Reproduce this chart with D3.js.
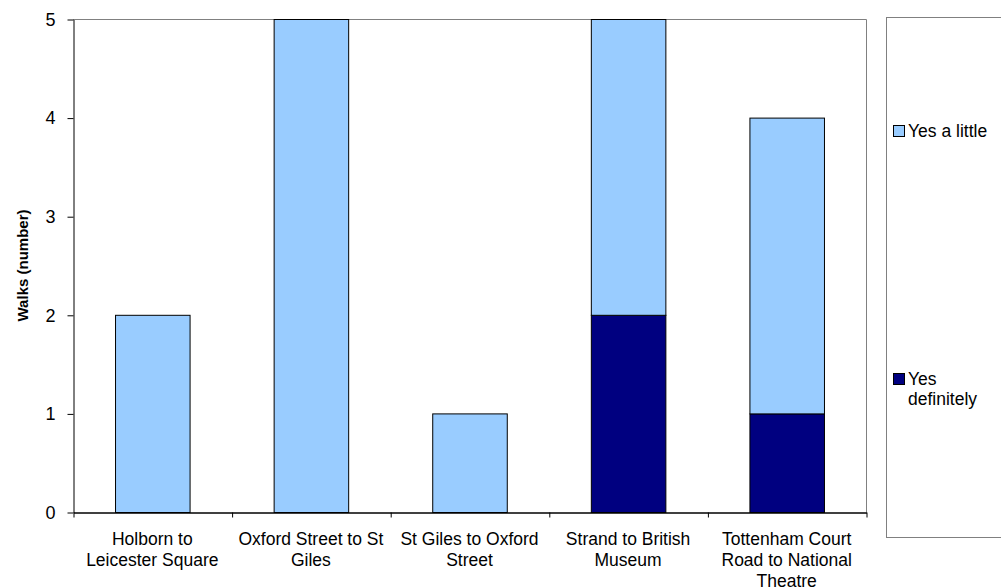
<!DOCTYPE html>
<html>
<head>
<meta charset="utf-8">
<script src="https://cdn.jsdelivr.net/npm/d3@7"></script>
<style>
    body { margin: 0; background: #fff; }
    svg { display: block; font-family: Arial, "Liberation Sans", sans-serif; }
    .tick text { fill: #000; }
</style>
</head>
<body>
<div class="chart"></div>
<script>
// chart data
const categories = ["Holborn to Leicester Square", "Oxford Street to St Giles",
                    "St Giles to Oxford Street", "Strand to British Museum",
                    "Tottenham Court Road to National Theatre"];
const yesDefinitely = [0, 0, 0, 2, 1];
const yesALittle = [2, 5, 1, 3, 3];
const seriesNames = ["Yes definitely", "Yes a little"];
const yTicks = [0, 1, 2, 3, 4, 5];

const width = 1001,
      height = 588;
const plotLeft = 73, plotRight = 866, plotTop = 19, plotBottom = 512;
const colors = {"Yes definitely": "#000080", "Yes a little": "#99CCFF"};

let rows = categories.map((c, i) => ({
    "cat": c,
    "Yes definitely": yesDefinitely[i],
    "Yes a little": yesALittle[i]
}));

const stack = d3.stack().keys(seriesNames)(rows);

const xScale = d3.scaleBand()
                .domain(categories)
                .range([plotLeft, plotRight])
                .paddingInner(0.53)
                .paddingOuter(0.265);

const edgeScale = d3.scaleLinear()
                .domain([0, categories.length])
                .range([plotLeft, plotRight]);

const yScale = d3.scaleLinear()
                .domain([0, 5])
                .range([plotBottom, plotTop]);

let svg = d3.select(".chart")
            .append("svg")
            .attr("width", width)
            .attr("height", height);

// plot frame (grey top / right)
svg.append("path")
    .attr("d", "M" + plotLeft + "," + (plotTop + 0.5) + "H" + (plotRight + 0.5) + "V" + plotBottom)
    .attr("fill", "none")
    .attr("stroke", "#808080")
    .attr("stroke-width", 1);

// bars
svg.selectAll("g.series")
    .data(stack)
    .enter()
    .append("g")
    .attr("class", "series")
    .attr("fill", (d) => colors[d.key])
    .selectAll("rect")
    .data((d) => d.filter((p) => p[1] - p[0] > 0))
    .enter()
    .append("rect")
    .attr("x", (d) => xScale(d.data.cat) + 0.5)
    .attr("y", (d) => yScale(d[1]) + 0.5)
    .attr("width", xScale.bandwidth())
    .attr("height", (d) => yScale(d[0]) - yScale(d[1]))
    .attr("stroke", "#000")
    .attr("stroke-width", 1);

// y axis
svg.append("g")
    .attr("transform", "translate(" + (plotLeft + 0.5) + ", 0.5)")
    .call(d3.axisLeft(yScale).tickValues(yTicks).tickFormat(d3.format("d"))
            .tickSize(6).tickSizeOuter(0).tickPadding(12))
    .call((g) => g.selectAll("text").attr("font-size", "18px").attr("font-family", "Arial, 'Liberation Sans', sans-serif"));

// x axis with ticks on category edges
svg.append("g")
    .attr("transform", "translate(0.5, " + (plotBottom + 0.5) + ")")
    .call(d3.axisBottom(edgeScale).ticks(categories.length).tickFormat("")
            .tickSize(5).tickSizeOuter(0))
    .call((g) => g.select(".domain").attr("stroke-width", 1.5));

// category labels, wrapped
const labelLine = 21;
svg.selectAll("text.cat")
    .data(categories)
    .enter()
    .append("text")
    .attr("class", "cat")
    .attr("font-size", "17.5px")
    .attr("text-anchor", "middle")
    .attr("x", (d) => xScale(d) + xScale.bandwidth() / 2)
    .attr("y", 545)
    .each(function (d) {
        let t = d3.select(this);
        let words = d.split(" ");
        let line = [];
        let lineNo = 0;
        let tspan = t.append("tspan").attr("x", t.attr("x")).attr("dy", 0);
        words.forEach((w) => {
            line.push(w);
            tspan.text(line.join(" "));
            if (tspan.node().getComputedTextLength() > 154 && line.length > 1) {
                line.pop();
                tspan.text(line.join(" "));
                line = [w];
                lineNo++;
                tspan = t.append("tspan").attr("x", t.attr("x")).attr("dy", labelLine).text(w);
            }
        });
    });

// y axis title
svg.append("text")
    .text("Walks (number)")
    .attr("transform", "rotate(-90)")
    .attr("x", -(plotTop + plotBottom) / 2)
    .attr("y", 28)
    .attr("text-anchor", "middle")
    .attr("font-weight", "bold")
    .attr("font-size", "15px");

// legend
svg.append("rect")
    .attr("x", 886.5)
    .attr("y", 17.5)
    .attr("width", 140)
    .attr("height", 520)
    .attr("fill", "none")
    .attr("stroke", "#808080");

const legendItems = [
    {"name": "Yes a little", "lines": ["Yes a little"], "y": 125},
    {"name": "Yes definitely", "lines": ["Yes", "definitely"], "y": 373}
];

let leg = svg.selectAll("g.legend")
    .data(legendItems)
    .enter()
    .append("g")
    .attr("class", "legend");

leg.append("rect")
    .attr("x", 893.5)
    .attr("y", (d) => d.y + 0.5)
    .attr("width", 11)
    .attr("height", 11)
    .attr("fill", (d) => colors[d.name])
    .attr("stroke", "#000");

leg.append("text")
    .attr("font-size", "17.5px")
    .attr("y", (d) => d.y + 12)
    .each(function (d) {
        d3.select(this).selectAll("tspan")
            .data(d.lines)
            .enter()
            .append("tspan")
            .attr("x", 908)
            .attr("dy", (l, i) => i === 0 ? 0 : 20)
            .text((l) => l);
    });
</script>
</body>
</html>
